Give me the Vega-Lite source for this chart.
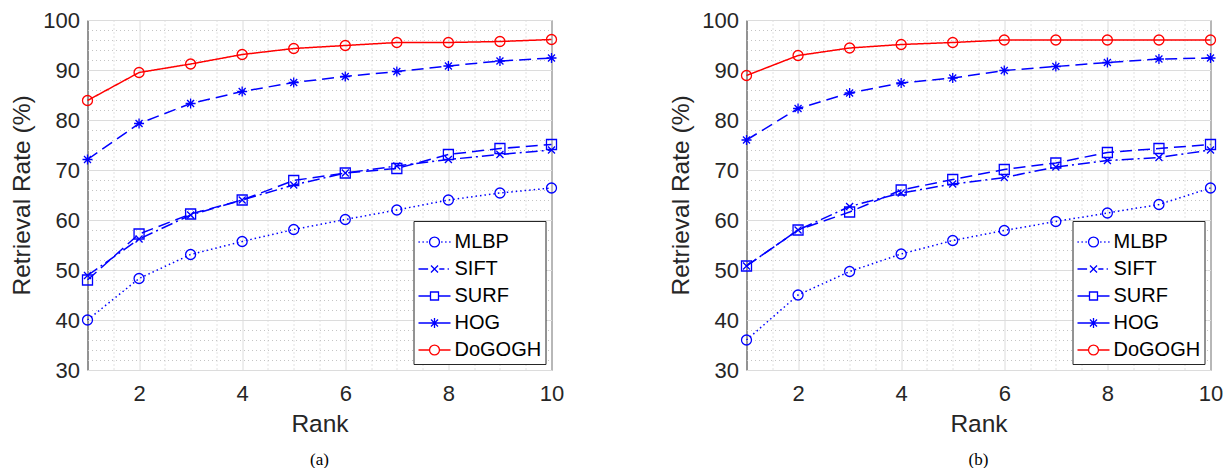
{
  "$schema": "https://vega.github.io/schema/vega-lite/v6.json",
  "padding": {"left": 8.5, "top": 8, "right": 0, "bottom": 0},
  "background": "white",
  "spacing": 103,
  "resolve": {"scale": {"color": "independent", "strokeDash": "independent", "shape": "independent", "size": "independent"}, "legend": {"color": "independent"}},
  "config": {
    "font": "Liberation Sans",
    "view": {"stroke": "#262626", "strokeWidth": 1}
  },
  "datasets": {
    "a": [
      {"method": "MLBP", "rank": 1, "rate": 40.0}, {"method": "MLBP", "rank": 2, "rate": 48.3}, {"method": "MLBP", "rank": 3, "rate": 53.1}, {"method": "MLBP", "rank": 4, "rate": 55.7}, {"method": "MLBP", "rank": 5, "rate": 58.1}, {"method": "MLBP", "rank": 6, "rate": 60.1}, {"method": "MLBP", "rank": 7, "rate": 62.0}, {"method": "MLBP", "rank": 8, "rate": 64.0}, {"method": "MLBP", "rank": 9, "rate": 65.4}, {"method": "MLBP", "rank": 10, "rate": 66.4},
      {"method": "SIFT", "rank": 1, "rate": 48.9}, {"method": "SIFT", "rank": 2, "rate": 56.2}, {"method": "SIFT", "rank": 3, "rate": 61.0}, {"method": "SIFT", "rank": 4, "rate": 64.0}, {"method": "SIFT", "rank": 5, "rate": 67.0}, {"method": "SIFT", "rank": 6, "rate": 69.4}, {"method": "SIFT", "rank": 7, "rate": 70.8}, {"method": "SIFT", "rank": 8, "rate": 72.1}, {"method": "SIFT", "rank": 9, "rate": 73.1}, {"method": "SIFT", "rank": 10, "rate": 74.0},
      {"method": "SURF", "rank": 1, "rate": 48.0}, {"method": "SURF", "rank": 2, "rate": 57.2}, {"method": "SURF", "rank": 3, "rate": 61.2}, {"method": "SURF", "rank": 4, "rate": 64.0}, {"method": "SURF", "rank": 5, "rate": 67.9}, {"method": "SURF", "rank": 6, "rate": 69.4}, {"method": "SURF", "rank": 7, "rate": 70.3}, {"method": "SURF", "rank": 8, "rate": 73.1}, {"method": "SURF", "rank": 9, "rate": 74.3}, {"method": "SURF", "rank": 10, "rate": 75.1},
      {"method": "HOG", "rank": 1, "rate": 72.1}, {"method": "HOG", "rank": 2, "rate": 79.3}, {"method": "HOG", "rank": 3, "rate": 83.3}, {"method": "HOG", "rank": 4, "rate": 85.7}, {"method": "HOG", "rank": 5, "rate": 87.5}, {"method": "HOG", "rank": 6, "rate": 88.7}, {"method": "HOG", "rank": 7, "rate": 89.7}, {"method": "HOG", "rank": 8, "rate": 90.8}, {"method": "HOG", "rank": 9, "rate": 91.8}, {"method": "HOG", "rank": 10, "rate": 92.4},
      {"method": "DoGOGH", "rank": 1, "rate": 83.9}, {"method": "DoGOGH", "rank": 2, "rate": 89.5}, {"method": "DoGOGH", "rank": 3, "rate": 91.2}, {"method": "DoGOGH", "rank": 4, "rate": 93.1}, {"method": "DoGOGH", "rank": 5, "rate": 94.3}, {"method": "DoGOGH", "rank": 6, "rate": 94.9}, {"method": "DoGOGH", "rank": 7, "rate": 95.5}, {"method": "DoGOGH", "rank": 8, "rate": 95.5}, {"method": "DoGOGH", "rank": 9, "rate": 95.7}, {"method": "DoGOGH", "rank": 10, "rate": 96.1}
    ],
    "b": [
      {"method": "MLBP", "rank": 1, "rate": 36.0}, {"method": "MLBP", "rank": 2, "rate": 45.0}, {"method": "MLBP", "rank": 3, "rate": 49.7}, {"method": "MLBP", "rank": 4, "rate": 53.2}, {"method": "MLBP", "rank": 5, "rate": 55.9}, {"method": "MLBP", "rank": 6, "rate": 57.9}, {"method": "MLBP", "rank": 7, "rate": 59.7}, {"method": "MLBP", "rank": 8, "rate": 61.4}, {"method": "MLBP", "rank": 9, "rate": 63.1}, {"method": "MLBP", "rank": 10, "rate": 66.4},
      {"method": "SIFT", "rank": 1, "rate": 50.8}, {"method": "SIFT", "rank": 2, "rate": 58.0}, {"method": "SIFT", "rank": 3, "rate": 62.7}, {"method": "SIFT", "rank": 4, "rate": 65.4}, {"method": "SIFT", "rank": 5, "rate": 67.2}, {"method": "SIFT", "rank": 6, "rate": 68.5}, {"method": "SIFT", "rank": 7, "rate": 70.6}, {"method": "SIFT", "rank": 8, "rate": 71.9}, {"method": "SIFT", "rank": 9, "rate": 72.5}, {"method": "SIFT", "rank": 10, "rate": 74.0},
      {"method": "SURF", "rank": 1, "rate": 50.8}, {"method": "SURF", "rank": 2, "rate": 58.0}, {"method": "SURF", "rank": 3, "rate": 61.6}, {"method": "SURF", "rank": 4, "rate": 66.0}, {"method": "SURF", "rank": 5, "rate": 68.1}, {"method": "SURF", "rank": 6, "rate": 70.1}, {"method": "SURF", "rank": 7, "rate": 71.4}, {"method": "SURF", "rank": 8, "rate": 73.5}, {"method": "SURF", "rank": 9, "rate": 74.3}, {"method": "SURF", "rank": 10, "rate": 75.1},
      {"method": "HOG", "rank": 1, "rate": 76.0}, {"method": "HOG", "rank": 2, "rate": 82.3}, {"method": "HOG", "rank": 3, "rate": 85.4}, {"method": "HOG", "rank": 4, "rate": 87.4}, {"method": "HOG", "rank": 5, "rate": 88.4}, {"method": "HOG", "rank": 6, "rate": 89.9}, {"method": "HOG", "rank": 7, "rate": 90.7}, {"method": "HOG", "rank": 8, "rate": 91.5}, {"method": "HOG", "rank": 9, "rate": 92.2}, {"method": "HOG", "rank": 10, "rate": 92.4},
      {"method": "DoGOGH", "rank": 1, "rate": 88.9}, {"method": "DoGOGH", "rank": 2, "rate": 92.9}, {"method": "DoGOGH", "rank": 3, "rate": 94.4}, {"method": "DoGOGH", "rank": 4, "rate": 95.1}, {"method": "DoGOGH", "rank": 5, "rate": 95.5}, {"method": "DoGOGH", "rank": 6, "rate": 96.0}, {"method": "DoGOGH", "rank": 7, "rate": 96.0}, {"method": "DoGOGH", "rank": 8, "rate": 96.0}, {"method": "DoGOGH", "rank": 9, "rate": 96.0}, {"method": "DoGOGH", "rank": 10, "rate": 96.0}
    ]
  },
  "hconcat": [
    {
      "width": 464, "height": 350,
      "data": {"name": "a"},
      "title": {"text": "(a)", "orient": "bottom", "font": "Liberation Serif", "fontSize": 17, "fontWeight": "normal", "color": "black", "offset": 16, "frame": "group", "anchor": "middle"},
      "resolve": {"axis": {"x": "independent", "y": "independent"}},
      "layer": [
        {
          "mark": {"type": "line", "strokeWidth": 1.5},
          "encoding": {
            "x": {"field": "rank", "type": "quantitative", "scale": {"domain": [1, 10], "nice": false, "zero": false},
              "axis": {"orient": "bottom", "values": [1.5, 2.5, 3, 3.5, 4.5, 5, 5.5, 6.5, 7, 7.5, 8.5, 9, 9.5], "grid": true, "gridDash": [1, 3], "gridColor": "#c4c4c4", "labels": false, "ticks": false, "domain": false, "title": null}},
            "y": {"field": "rate", "type": "quantitative", "scale": {"domain": [30, 100], "nice": false, "zero": false},
              "axis": {"orient": "left", "values": [32, 34, 36, 38, 42, 44, 46, 48, 52, 54, 56, 58, 62, 64, 66, 68, 72, 74, 76, 78, 82, 84, 86, 88, 92, 94, 96, 98], "grid": true, "gridDash": [1, 3], "gridColor": "#c4c4c4", "labels": false, "ticks": false, "domain": false, "title": null}},
            "color": {"field": "method", "type": "nominal",
              "scale": {"domain": ["MLBP", "SIFT", "SURF", "HOG", "DoGOGH"], "range": ["#0000ff", "#0000ff", "#0000ff", "#0000ff", "#ff0000"]},
              "legend": {
                "title": null, "orient": "bottom-right", "offset": 6, "padding": 4,
                "strokeColor": "#262626", "fillColor": "white",
                "labelFont": "Liberation Sans", "labelFontSize": 20, "labelColor": "black", "labelOffset": 3,
                "symbolSize": 1024, "rowPadding": 0,
                "encode": {"symbols": {"update": {
                  "shape": {"signal": "datum.value === 'MLBP' ? 'M-1,0L-0.92,0M-0.75,0L-0.67,0M-0.5,0L-0.42,0M0.42,0L0.5,0M0.67,0L0.75,0M0.92,0L1,0M0.31,0A0.31,0.31,0,1,1,-0.31,0A0.31,0.31,0,1,1,0.31,0' : datum.value === 'SIFT' ? 'M-1,0L-0.4,0M0.3,0L0.62,0M0.82,0L0.9,0M-0.22,-0.22L0.22,0.22M-0.22,0.22L0.22,-0.22' : datum.value === 'SURF' ? 'M-1,0L-0.25,0M0.25,0L1,0M-0.25,-0.25L0.25,-0.25L0.25,0.25L-0.25,0.25Z' : datum.value === 'HOG' ? 'M-1,0L1,0M0,-0.31L0,0.31M-0.22,-0.22L0.22,0.22M-0.22,0.22L0.22,-0.22' : 'M-1,0L-0.31,0M0.31,0L1,0M0.31,0A0.31,0.31,0,1,1,-0.31,0A0.31,0.31,0,1,1,0.31,0'"},
                  "fill": {"value": "transparent"},
                  "strokeWidth": {"value": 1.3},
                  "size": {"value": 1024},
                  "opacity": {"value": 1}
                }}}
              }},
            "strokeDash": {"field": "method", "type": "nominal",
              "scale": {"domain": ["DoGOGH", "HOG", "SURF", "SIFT", "MLBP"], "range": [[1, 0], [12, 6], [12, 6], [12, 4, 2, 4], [1.5, 3]]},
              "legend": null}
          }
        },
        {
          "mark": {"type": "point", "filled": false, "opacity": 1, "strokeWidth": 1.3},
          "encoding": {
            "x": {"field": "rank", "type": "quantitative",
              "axis": {"orient": "bottom", "values": [2, 4, 6, 8, 10], "grid": true, "gridColor": "#dcdcdc", "gridWidth": 1, "ticks": false, "domain": false,
                "labelFont": "Liberation Sans", "labelFontSize": 22, "labelColor": "#262626", "labelPadding": 13, "labelFlush": false,
                "title": "Rank", "titleFont": "Liberation Sans", "titleFontSize": 24.5, "titleFontWeight": "normal", "titleColor": "#262626", "titlePadding": 8}},
            "y": {"field": "rate", "type": "quantitative",
              "axis": {"orient": "left", "values": [30, 40, 50, 60, 70, 80, 90, 100], "grid": true, "gridColor": "#dcdcdc", "gridWidth": 1, "ticks": false, "domain": false,
                "labelFont": "Liberation Sans", "labelFontSize": 22, "labelColor": "#262626", "labelPadding": 8, "labelFlush": false,
                "title": "Retrieval Rate (%)", "titleFont": "Liberation Sans", "titleFontSize": 24.5, "titleFontWeight": "normal", "titleColor": "#262626", "titlePadding": 8}},
            "color": {"field": "method", "type": "nominal"},
            "shape": {"field": "method", "type": "nominal",
              "scale": {"domain": ["DoGOGH", "HOG", "SURF", "SIFT", "MLBP"], "range": ["circle", "M-1,0L1,0M0,-1L0,1M-0.7,-0.7L0.7,0.7M-0.7,0.7L0.7,-0.7", "square", "M-0.7,-0.7L0.7,0.7M-0.7,0.7L0.7,-0.7", "circle"]},
              "legend": null},
            "size": {"field": "method", "type": "nominal",
              "scale": {"domain": ["DoGOGH", "HOG", "SURF", "SIFT", "MLBP"], "range": [100, 100, 64, 130, 100]},
              "legend": null}
          }
        }
      ]
    },
    {
      "width": 464, "height": 350,
      "data": {"name": "b"},
      "title": {"text": "(b)", "orient": "bottom", "font": "Liberation Serif", "fontSize": 17, "fontWeight": "normal", "color": "black", "offset": 16, "frame": "group", "anchor": "middle"},
      "resolve": {"axis": {"x": "independent", "y": "independent"}},
      "layer": [
        {
          "mark": {"type": "line", "strokeWidth": 1.5},
          "encoding": {
            "x": {"field": "rank", "type": "quantitative", "scale": {"domain": [1, 10], "nice": false, "zero": false},
              "axis": {"orient": "bottom", "values": [1.5, 2.5, 3, 3.5, 4.5, 5, 5.5, 6.5, 7, 7.5, 8.5, 9, 9.5], "grid": true, "gridDash": [1, 3], "gridColor": "#c4c4c4", "labels": false, "ticks": false, "domain": false, "title": null}},
            "y": {"field": "rate", "type": "quantitative", "scale": {"domain": [30, 100], "nice": false, "zero": false},
              "axis": {"orient": "left", "values": [32, 34, 36, 38, 42, 44, 46, 48, 52, 54, 56, 58, 62, 64, 66, 68, 72, 74, 76, 78, 82, 84, 86, 88, 92, 94, 96, 98], "grid": true, "gridDash": [1, 3], "gridColor": "#c4c4c4", "labels": false, "ticks": false, "domain": false, "title": null}},
            "color": {"field": "method", "type": "nominal",
              "scale": {"domain": ["MLBP", "SIFT", "SURF", "HOG", "DoGOGH"], "range": ["#0000ff", "#0000ff", "#0000ff", "#0000ff", "#ff0000"]},
              "legend": {
                "title": null, "orient": "bottom-right", "offset": 6, "padding": 4,
                "strokeColor": "#262626", "fillColor": "white",
                "labelFont": "Liberation Sans", "labelFontSize": 20, "labelColor": "black", "labelOffset": 3,
                "symbolSize": 1024, "rowPadding": 0,
                "encode": {"symbols": {"update": {
                  "shape": {"signal": "datum.value === 'MLBP' ? 'M-1,0L-0.92,0M-0.75,0L-0.67,0M-0.5,0L-0.42,0M0.42,0L0.5,0M0.67,0L0.75,0M0.92,0L1,0M0.31,0A0.31,0.31,0,1,1,-0.31,0A0.31,0.31,0,1,1,0.31,0' : datum.value === 'SIFT' ? 'M-1,0L-0.4,0M0.3,0L0.62,0M0.82,0L0.9,0M-0.22,-0.22L0.22,0.22M-0.22,0.22L0.22,-0.22' : datum.value === 'SURF' ? 'M-1,0L-0.25,0M0.25,0L1,0M-0.25,-0.25L0.25,-0.25L0.25,0.25L-0.25,0.25Z' : datum.value === 'HOG' ? 'M-1,0L1,0M0,-0.31L0,0.31M-0.22,-0.22L0.22,0.22M-0.22,0.22L0.22,-0.22' : 'M-1,0L-0.31,0M0.31,0L1,0M0.31,0A0.31,0.31,0,1,1,-0.31,0A0.31,0.31,0,1,1,0.31,0'"},
                  "fill": {"value": "transparent"},
                  "strokeWidth": {"value": 1.3},
                  "size": {"value": 1024},
                  "opacity": {"value": 1}
                }}}
              }},
            "strokeDash": {"field": "method", "type": "nominal",
              "scale": {"domain": ["DoGOGH", "HOG", "SURF", "SIFT", "MLBP"], "range": [[1, 0], [12, 6], [12, 6], [12, 4, 2, 4], [1.5, 3]]},
              "legend": null}
          }
        },
        {
          "mark": {"type": "point", "filled": false, "opacity": 1, "strokeWidth": 1.3},
          "encoding": {
            "x": {"field": "rank", "type": "quantitative",
              "axis": {"orient": "bottom", "values": [2, 4, 6, 8, 10], "grid": true, "gridColor": "#dcdcdc", "gridWidth": 1, "ticks": false, "domain": false,
                "labelFont": "Liberation Sans", "labelFontSize": 22, "labelColor": "#262626", "labelPadding": 13, "labelFlush": false,
                "title": "Rank", "titleFont": "Liberation Sans", "titleFontSize": 24.5, "titleFontWeight": "normal", "titleColor": "#262626", "titlePadding": 8}},
            "y": {"field": "rate", "type": "quantitative",
              "axis": {"orient": "left", "values": [30, 40, 50, 60, 70, 80, 90, 100], "grid": true, "gridColor": "#dcdcdc", "gridWidth": 1, "ticks": false, "domain": false,
                "labelFont": "Liberation Sans", "labelFontSize": 22, "labelColor": "#262626", "labelPadding": 8, "labelFlush": false,
                "title": "Retrieval Rate (%)", "titleFont": "Liberation Sans", "titleFontSize": 24.5, "titleFontWeight": "normal", "titleColor": "#262626", "titlePadding": 8}},
            "color": {"field": "method", "type": "nominal"},
            "shape": {"field": "method", "type": "nominal",
              "scale": {"domain": ["DoGOGH", "HOG", "SURF", "SIFT", "MLBP"], "range": ["circle", "M-1,0L1,0M0,-1L0,1M-0.7,-0.7L0.7,0.7M-0.7,0.7L0.7,-0.7", "square", "M-0.7,-0.7L0.7,0.7M-0.7,0.7L0.7,-0.7", "circle"]},
              "legend": null},
            "size": {"field": "method", "type": "nominal",
              "scale": {"domain": ["DoGOGH", "HOG", "SURF", "SIFT", "MLBP"], "range": [100, 100, 64, 130, 100]},
              "legend": null}
          }
        }
      ]
    }
  ]
}
